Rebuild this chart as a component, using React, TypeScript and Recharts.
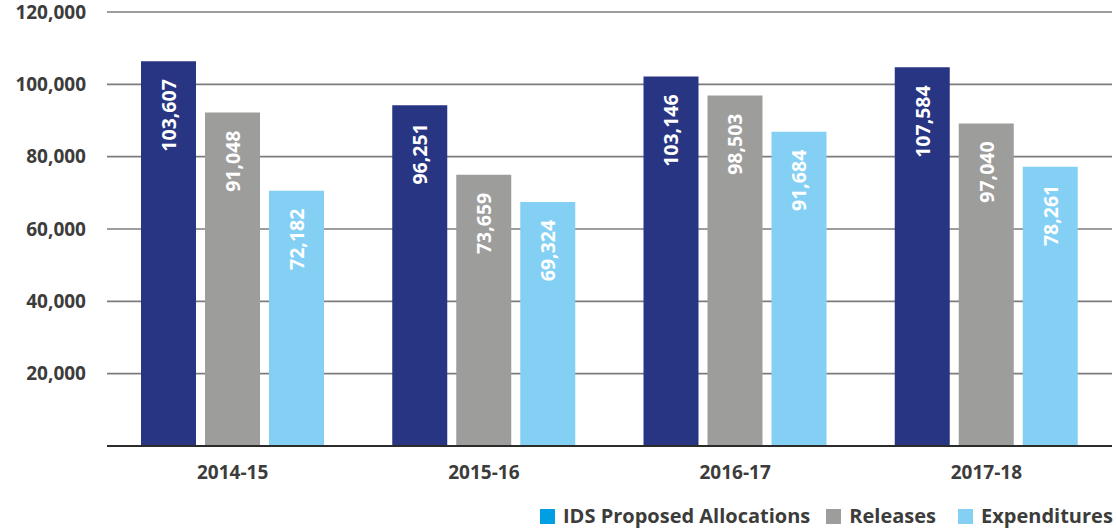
import React from "react";
import { BarChart, Bar, XAxis, YAxis, CartesianGrid, Legend, LabelList } from "recharts";

const years = ["2014-15", "2015-16", "2016-17", "2017-18"];
// bar heights as drawn in the picture
const allocations = [106400, 94200, 102200, 104700];
const releases = [92200, 75000, 96900, 89200];
const expenditures = [70600, 67500, 86900, 77200];
// printed value labels
const allocationLabels = ["103,607", "96,251", "103,146", "107,584"];
const releaseLabels = ["91,048", "73,659", "98,503", "97,040"];
const expenditureLabels = ["72,182", "69,324", "91,684", "78,261"];
const yTicks = [20000, 40000, 60000, 80000, 100000, 120000];

const seriesNames = ["IDS Proposed Allocations", "Releases", "Expenditures"];
const barColors = ["#283583", "#9d9d9c", "#84d0f5"];
const legendColors = ["#009fe3", "#9d9d9c", "#84d0f5"];

const data = years.map((y, i) => ({
  year: y,
  alloc: allocations[i],
  rel: releases[i],
  exp: expenditures[i],
  allocLabel: allocationLabels[i],
  relLabel: releaseLabels[i],
  expLabel: expenditureLabels[i],
}));

const FONT = "'Open Sans', 'DejaVu Sans', sans-serif";
const TEXT = "#3c3c3b";

const BarLabel = (props: any) => {
  const { x, y, width, value } = props;
  const cx = Number(x) + Number(width) / 2;
  const ty = Number(y) + 18;
  return (
    <text
      x={cx}
      y={ty}
      transform={`rotate(-90 ${cx} ${ty})`}
      textAnchor="end"
      dominantBaseline="central"
      fill="#ffffff"
      fontFamily={FONT}
      fontWeight={700}
      fontSize={19.5}
    >
      {value}
    </text>
  );
};

const LegendContent = () => (
  <div style={{ display: "flex", alignItems: "center", fontFamily: FONT, fontWeight: 700, fontSize: 20, color: TEXT, whiteSpace: "nowrap", lineHeight: "24px" }}>
    {seriesNames.map((n, i) => (
      <div key={n} style={{ display: "flex", alignItems: "center", marginRight: i === 0 ? 16 : i === 1 ? 22 : 0 }}>
        <span style={{ display: "inline-block", width: 15, height: 15, background: legendColors[i], marginRight: 8 }} />
        <span>{n}</span>
      </div>
    ))}
  </div>
);

export default function App() {
  return (
    <div style={{ position: "absolute", left: 0, top: 0, width: 1116, height: 529, background: "#fff" }}>
      <BarChart
        width={1116}
        height={529}
        data={data}
        margin={{ top: 12, right: 4, bottom: 0, left: 0 }}
        barSize={55}
        barGap={9}
      >
        <CartesianGrid vertical={false} stroke="#7c7c7c" strokeWidth={1.6} />
        <XAxis
          dataKey="year"
          height={83}
          tickLine={false}
          tickSize={0}
          tickMargin={20}
          axisLine={{ stroke: "#2b2b2b", strokeWidth: 2 }}
          tick={{ fill: TEXT, fontFamily: FONT, fontWeight: 700, fontSize: 19 }}
        />
        <YAxis
          width={107}
          domain={[0, 120000]}
          ticks={yTicks}
          axisLine={false}
          tickLine={false}
          tickSize={0}
          tickMargin={21}
          tickFormatter={(v: number) => v.toLocaleString("en-US")}
          tick={{ fill: TEXT, fontFamily: FONT, fontWeight: 700, fontSize: 19 }}
        />
        <Legend
          layout="horizontal"
          verticalAlign="middle"
          content={<LegendContent />}
          wrapperStyle={{ position: "absolute", left: 540, top: 504, width: "auto" }}
        />
        <Bar dataKey="alloc" name={seriesNames[0]} fill={barColors[0]} isAnimationActive={false}>
          <LabelList dataKey="allocLabel" content={<BarLabel />} />
        </Bar>
        <Bar dataKey="rel" name={seriesNames[1]} fill={barColors[1]} isAnimationActive={false}>
          <LabelList dataKey="relLabel" content={<BarLabel />} />
        </Bar>
        <Bar dataKey="exp" name={seriesNames[2]} fill={barColors[2]} isAnimationActive={false}>
          <LabelList dataKey="expLabel" content={<BarLabel />} />
        </Bar>
      </BarChart>
    </div>
  );
}
